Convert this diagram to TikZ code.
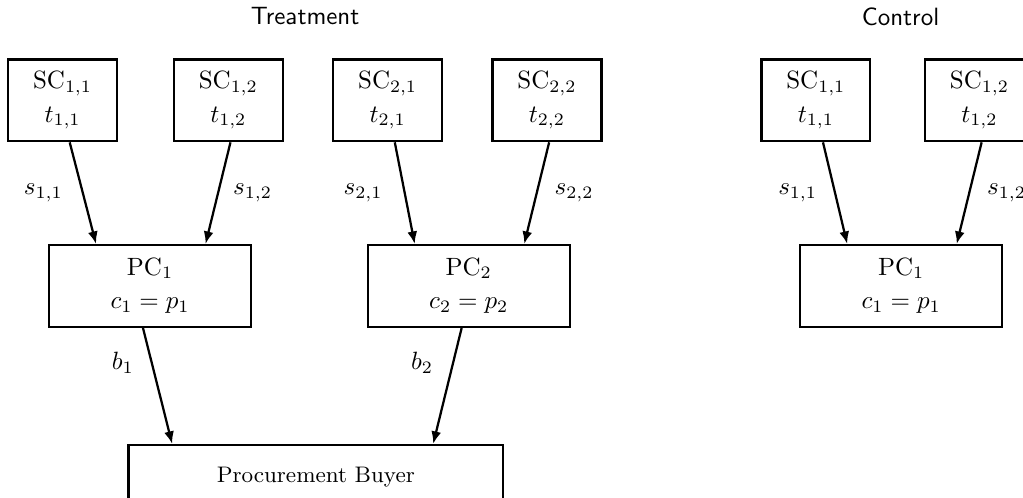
\documentclass[tikz,border=0pt]{standalone}
\usetikzlibrary{arrows.meta}

\tikzset{
  agent/.style={draw,line width=0.9pt,align=center,minimum height=1.15cm,inner sep=2pt},
  supplier/.style={agent,minimum width=1.53cm,execute at begin node=\rule{0pt}{15pt}},
  contractor/.style={agent,minimum width=2.84cm},
  buyer/.style={draw,line width=0.9pt,minimum width=5.27cm,minimum height=0.9cm,anchor=north,font=\small},
  title/.style={font=\sffamily}
}

\begin{document}
\begin{tikzpicture}[>={Latex[length=5pt,width=4pt]}]
    \useasboundingbox (0,0) rectangle (409.2pt,-198.8pt);

    % treatment
    \node[title] (Treatment) at ( 4.29,-0.23) {Treatment};
    \node[supplier] (SC11) at ( 0.88,-1.41) {$\mathrm{SC}_{1,1}$\\[1.5pt]$t_{1,1}$};
    \node[supplier] (SC12) at ( 3.21,-1.41) {$\mathrm{SC}_{1,2}$\\[1.5pt]$t_{1,2}$};
    \node[supplier] (SC21) at ( 5.45,-1.41) {$\mathrm{SC}_{2,1}$\\[1.5pt]$t_{2,1}$};
    \node[supplier] (SC22) at ( 7.69,-1.41) {$\mathrm{SC}_{2,2}$\\[1.5pt]$t_{2,2}$};
    \node[contractor] (PC1) at ( 2.11,-4.02) {$\mathrm{PC}_1$\\[1.5pt]$c_1=p_1$};
    \node[contractor] (PC2) at ( 6.59,-4.02) {$\mathrm{PC}_2$\\[1.5pt]$c_2=p_2$};
    \node[buyer] (Buyer) at ( 4.44,-6.24) {Procurement Buyer};

    % control
    \node[title] (Control) at (12.66,-0.23) {Control};
    \node[supplier] (cSC11) at (11.47,-1.41) {$\mathrm{SC}_{1,1}$\\[1.5pt]$t_{1,1}$};
    \node[supplier] (cSC12) at (13.77,-1.41) {$\mathrm{SC}_{1,2}$\\[1.5pt]$t_{1,2}$};
    \node[contractor] (cPC1) at (12.67,-4.02) {$\mathrm{PC}_1$\\[1.5pt]$c_1=p_1$};

    \begin{scope}[every path/.style={->,line width=0.9pt}]
       \draw ([xshift=1mm]SC11.south) -- ([xshift=-7.6mm]PC1.north) node[midway,left=1.5mm] {$s_{1,1}$};
       \draw ([xshift=.3mm]SC12.south) -- ([xshift=7.8mm]PC1.north) node[midway,right=0.8mm] {$s_{1,2}$};
       \draw ([xshift=1mm]SC21.south) -- ([xshift=-7.6mm]PC2.north) node[midway,left=1.8mm] {$s_{2,1}$};
       \draw ([xshift=.3mm]SC22.south) -- ([xshift=7.8mm]PC2.north) node[midway,right=1.2mm] {$s_{2,2}$};
       \draw ([xshift=-1mm]PC1.south) -- ([xshift=-20.2mm]Buyer.north) node[pos=.3,left=1.2mm] {$b_1$};
       \draw ([xshift=-1mm]PC2.south) -- ([xshift=16.5mm]Buyer.north) node[pos=.3,left=1.5mm] {$b_2$};
       \draw ([xshift=1mm]cSC11.south) -- ([xshift=-7.6mm]cPC1.north) node[midway,left=1.2mm] {$s_{1,1}$};
       \draw ([xshift=.3mm]cSC12.south) -- ([xshift=7.8mm]cPC1.north) node[midway,right=1.2mm] {$s_{1,2}$};
    \end{scope}
\end{tikzpicture}
\end{document}
